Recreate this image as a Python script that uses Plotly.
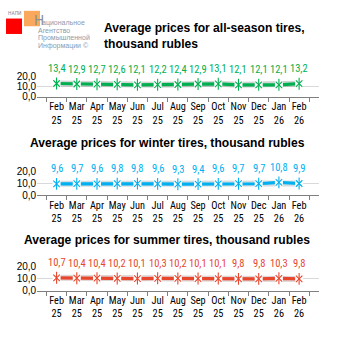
import plotly.graph_objects as go

# Monthly categories (two-line tick labels)
months = ["Feb<br>25", "Mar<br>25", "Apr<br>25", "May<br>25", "Jun<br>25", "Jul<br>25",
          "Aug<br>25", "Sep<br>25", "Oct<br>25", "Nov<br>25", "Dec<br>25", "Jan<br>26", "Feb<br>26"]

# Average prices, thousand rubles
all_season = [13.4, 12.9, 12.7, 12.6, 12.1, 12.2, 12.4, 12.9, 13.1, 12.1, 12.1, 12.1, 13.2]
winter = [9.6, 9.7, 9.6, 9.8, 9.8, 9.6, 9.3, 9.4, 9.6, 9.7, 9.7, 10.8, 9.9]
summer = [10.7, 10.4, 10.4, 10.2, 10.1, 10.3, 10.2, 10.1, 10.1, 9.8, 9.8, 10.3, 9.8]

y_ticks = [0, 10, 20]

W = H = 338


def px_x(p):
    return p / W


def px_y(p):
    return 1 - p / H


panels = [
    dict(values=all_season, color="#00B050", shadow="rgba(120,140,130,0.35)",
         top=73.5, bottom=94.3,
         title="Average prices for all-season tires,<br>thousand rubles",
         tx=102, ty=31, talign="left"),
    dict(values=winter, color="#00B0F0", shadow="rgba(120,140,150,0.30)",
         top=171.5, bottom=196.3,
         title="Average prices for winter tires, thousand rubles",
         tx=167, ty=142, talign="center"),
    dict(values=summer, color="#E8472E", shadow="rgba(150,120,120,0.30)",
         top=270.2, bottom=295.2,
         title="Average prices for summer tires, thousand rubles",
         tx=167, ty=243, talign="center"),
]

fig = go.Figure()
annotations = []
layout_axes = {}

narrow = "Liberation Sans Narrow, Roboto Condensed, Lato"
tick_font = dict(family=narrow, size=10.3, color="#000000")

for i, p in enumerate(panels):
    n = "" if i == 0 else str(i + 1)
    xa, ya = "x" + n, "y" + n
    col = p["color"]
    vals = p["values"]

    # soft shadow under the line
    fig.add_trace(go.Scatter(x=months, y=vals, mode="lines", xaxis=xa, yaxis=ya,
                             line=dict(color=p["shadow"], width=6),
                             hoverinfo="skip", showlegend=False))
    fig.add_trace(go.Scatter(x=months, y=vals, mode="lines", xaxis=xa, yaxis=ya,
                             line=dict(color=col, width=3.2),
                             hoverinfo="skip", showlegend=False))
    # white marker box with a star (x + vertical bar)
    fig.add_trace(go.Scatter(x=months, y=vals, mode="markers", xaxis=xa, yaxis=ya,
                             marker=dict(symbol="square", size=8, color="white",
                                         line=dict(width=0)),
                             hoverinfo="skip", showlegend=False))
    fig.add_trace(go.Scatter(x=months, y=vals, mode="markers", xaxis=xa, yaxis=ya,
                             marker=dict(symbol="x-thin-open", size=6.5, color=col,
                                         line=dict(color=col, width=1.1)),
                             hoverinfo="skip", showlegend=False))
    fig.add_trace(go.Scatter(x=months, y=vals, mode="markers", xaxis=xa, yaxis=ya,
                             marker=dict(symbol="line-ns-open", size=8.5, color=col,
                                         line=dict(color=col, width=1.1)),
                             hoverinfo="skip", showlegend=False))

    # value labels above each point
    for m, v in zip(months, vals):
        annotations.append(dict(x=m, y=v, xref=xa, yref=ya, yshift=15,
                                text=f"{v:.1f}".replace(".", ","), showarrow=False,
                                font=dict(family=narrow, size=10.5, color=col),
                                xanchor="center", yanchor="middle"))

    # panel title
    annotations.append(dict(x=px_x(p["tx"]), y=px_y(p["ty"]), xref="paper", yref="paper",
                            text=f"<b>{p['title']}</b>", showarrow=False,
                            xanchor="left" if p["talign"] == "left" else "center",
                            yanchor="middle", align=p["talign"],
                            font=dict(family="Liberation Sans", size=12.1, color="#000000")))

    layout_axes["xaxis" + n] = dict(
        domain=[px_x(37.2), px_x(318.5)], anchor=ya, type="category",
        showgrid=False, showline=True, linecolor="#7f7f7f", linewidth=1,
        ticks="outside", ticklen=4, tickcolor="#7f7f7f", tickson="boundaries",
        tickangle=0, tickfont=tick_font, zeroline=False, fixedrange=True)
    layout_axes["yaxis" + n] = dict(
        domain=[px_y(p["bottom"]), px_y(p["top"])], anchor=xa, range=[0, 20],
        tickvals=y_ticks, tickformat=".1f", showgrid=True, gridcolor="#d9d9d9",
        gridwidth=1, zeroline=False, showline=False, ticks="",
        tickfont=dict(family="Liberation Sans", size=10, color="#000000"),
        fixedrange=True)

# logo
shapes = [
    dict(type="rect", xref="paper", yref="paper", x0=px_x(6), x1=px_x(22),
         y0=px_y(29), y1=px_y(13), fillcolor="#FF0000", line=dict(width=0)),
    dict(type="rect", xref="paper", yref="paper", x0=px_x(24), x1=px_x(40),
         y0=px_y(21), y1=px_y(5), fillcolor="#F9A04A", line=dict(width=0),
         opacity=0.9),
]
logo_grey = "#8d9aae"
annotations.append(dict(x=px_x(5.5), y=px_y(7), xref="paper", yref="paper", text="НАПИ",
                        showarrow=False, xanchor="left", yanchor="middle",
                        font=dict(family=narrow, size=5.5, color="#7d8ca3")))
annotations.append(dict(x=px_x(32), y=px_y(15), xref="paper", yref="paper", text="Н",
                        showarrow=False, xanchor="left", yanchor="middle",
                        font=dict(family="Liberation Sans", size=14, color="#8a8f99")))
for text, yy in [("ациональное", 17.5), ("Агентство", 25.5),
                 ("Промышленной", 33.5), ("Информации ©", 41.5)]:
    annotations.append(dict(x=px_x(40 if text.startswith("ац") else 35.5), y=px_y(yy),
                            xref="paper", yref="paper", text=text, showarrow=False,
                            xanchor="left", yanchor="middle",
                            font=dict(family="Liberation Sans", size=7, color=logo_grey)))

fig.update_layout(width=W, height=H, margin=dict(l=0, r=0, t=0, b=0),
                  paper_bgcolor="white", plot_bgcolor="white", separators=", ",
                  showlegend=False, annotations=annotations, shapes=shapes,
                  **layout_axes)

fig.write_html("out.html", config={"displayModeBar": False})
